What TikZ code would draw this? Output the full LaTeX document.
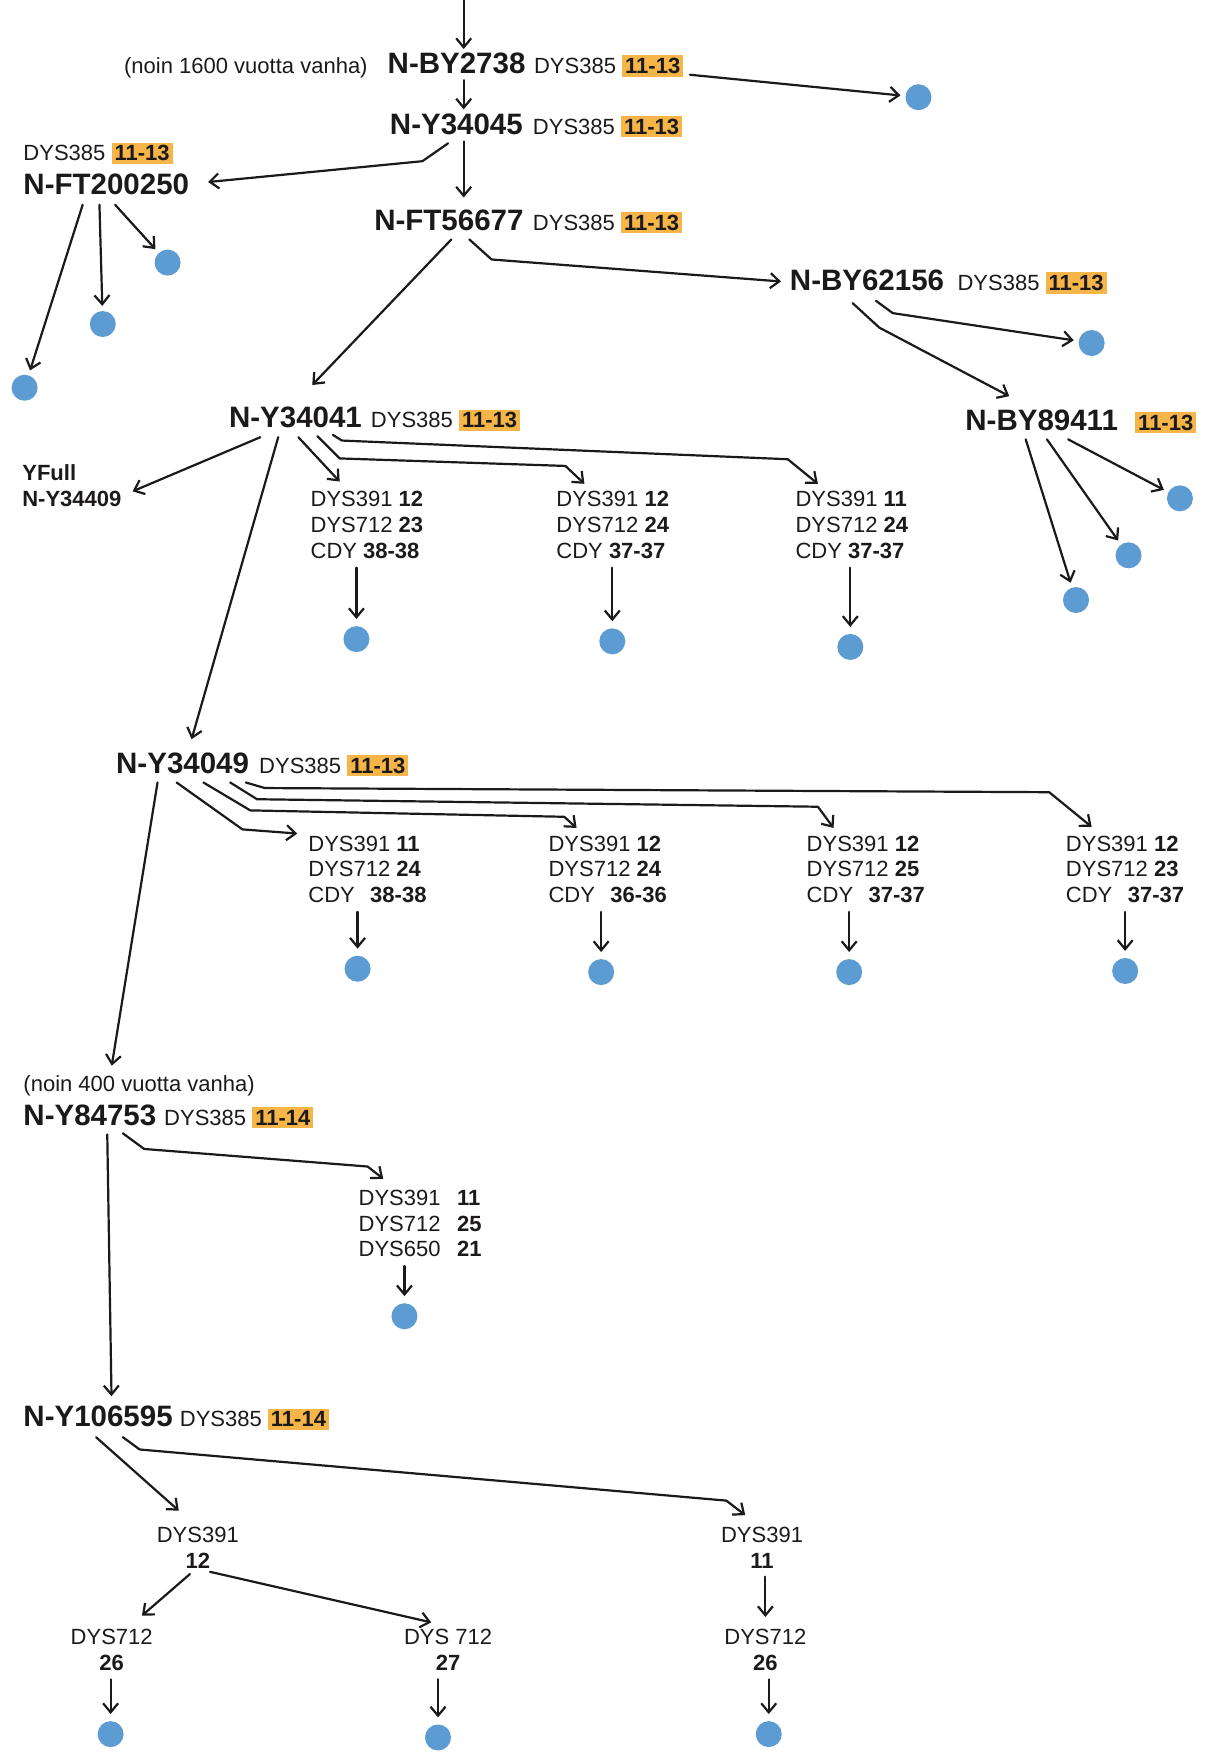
\documentclass[tikz,border=0pt]{standalone}
\usepackage{fontspec}
\setmainfont{Liberation Sans}
\usetikzlibrary{arrows.meta}
\definecolor{hlorange}{RGB}{246,181,72}
\definecolor{leafblue}{RGB}{93,156,211}
\definecolor{ink}{RGB}{28,25,26}
\newcommand{\idfont}{\fontsize{29.5}{34}\selectfont\bfseries}
\newcommand{\dysfont}{\fontsize{22}{25.7}\selectfont}
\newcommand{\hlbox}[1]{{\setlength{\fboxsep}{3pt}\colorbox{hlorange}{\bfseries #1}}}
\tikzset{
  hapl/.style={font=\idfont, inner sep=0pt, anchor=base west},
  dysval/.style={font=\dysfont, inner sep=0pt, anchor=base west},
  strs/.style={font=\dysfont, inner sep=0pt, align=left, anchor=north west},
  pair/.style={font=\dysfont, inner sep=0pt, align=center, anchor=north},
  leaf/.style={circle, fill=leafblue, minimum size=26pt, inner sep=0pt},
}
\begin{document}
\begin{tikzpicture}[x=1.1169pt, y=-1.1169pt, color=ink, line width=2.2pt, line cap=round, line join=round, >={Straight Barb[length=9pt,width=15pt]}]
\useasboundingbox (0,0) rectangle (1078,1568);

\node[dysval, anchor=base east] (age1) at (330,66) {(noin 1600 vuotta vanha)};
\node[hapl] (by2738) at (346,66) {N-BY2738};
\node[dysval] (by2738d) at (477,66) {DYS385 \hlbox{11-13}};
\node[hapl] (y34045) at (348,120) {N-Y34045};
\node[dysval] (y34045d) at (476,120) {DYS385 \hlbox{11-13}};
\node[dysval] (ft200250d) at (20,144) {DYS385 \hlbox{11-13}};
\node[hapl] (ft200250) at (20,174) {N-FT200250};
\node[hapl] (ft56677) at (334,206) {N-FT56677};
\node[dysval] (ft56677d) at (476,206) {DYS385 \hlbox{11-13}};
\node[hapl] (by62156) at (706,260) {N-BY62156};
\node[dysval] (by62156d) at (856,260) {DYS385 \hlbox{11-13}};
\node[hapl] (by89411) at (863,385) {N-BY89411};
\node[dysval] (by89411d) at (1015,385) {\hlbox{11-13}};
\node[hapl] (y34041) at (204,383) {N-Y34041};
\node[dysval] (y34041d) at (331,383) {DYS385 \hlbox{11-13}};
\node[strs, font=\dysfont\bfseries] (yfull) at (19,415) {YFull\\N-Y34409};
\node[strs] (r1b1) at (277,439) {DYS391 \textbf{12}\\DYS712 \textbf{23}\\CDY \textbf{38-38}};
\node[strs] (r1b2) at (497,439) {DYS391 \textbf{12}\\DYS712 \textbf{24}\\CDY \textbf{37-37}};
\node[strs] (r1b3) at (711,439) {DYS391 \textbf{11}\\DYS712 \textbf{24}\\CDY \textbf{37-37}};

\node[hapl] (y34049) at (103,692) {N-Y34049};
\node[dysval] (y34049d) at (231,692) {DYS385 \hlbox{11-13}};
\node[strs] (r2b1) at (275,747) {DYS391 \textbf{11}\\DYS712 \textbf{24}\\CDY\hspace{0.7em}\textbf{38-38}};
\node[strs] (r2b2) at (490,747) {DYS391 \textbf{12}\\DYS712 \textbf{24}\\CDY\hspace{0.7em}\textbf{36-36}};
\node[strs] (r2b3) at (721,747) {DYS391 \textbf{12}\\DYS712 \textbf{25}\\CDY\hspace{0.7em}\textbf{37-37}};
\node[strs] (r2b4) at (953,747) {DYS391 \textbf{12}\\DYS712 \textbf{23}\\CDY\hspace{0.7em}\textbf{37-37}};

\node[dysval] (age2) at (20,977) {(noin 400 vuotta vanha)};
\node[hapl] (y84753) at (20,1007) {N-Y84753};
\node[dysval] (y84753d) at (146,1007) {DYS385 \hlbox{11-14}};
\node[strs] (r3b1) at (320,1064) {DYS391\hspace{0.75em}\textbf{11}\\DYS712\hspace{0.75em}\textbf{25}\\DYS650\hspace{0.75em}\textbf{21}};

\node[hapl] (y106595) at (20,1277) {N-Y106595};
\node[dysval] (y106595d) at (160,1277) {DYS385 \hlbox{11-14}};
\node[pair] (a391) at (177,1366) {DYS391\\\textbf{12}};
\node[pair] (b391) at (682,1366) {DYS391\\\textbf{11}};
\node[pair] (a712) at (100,1457) {DYS712\\\textbf{26}};
\node[pair] (c712) at (401,1457) {DYS 712\\\textbf{27}};
\node[pair] (b712) at (685,1457) {DYS712\\\textbf{26}};

\foreach \n/\x/\y in {l0/822/87, fl1/22/347, fl2/92/290, fl3/150/235, bl/977/307,
    bx1/1056/446, bx2/1010/497, bx3/963/537, r1l1/319/572, r1l2/548/574, r1l3/761/579,
    r2l1/320/867, r2l2/538/870, r2l3/760/870, r2l4/1007/869, r3l1/362/1178,
    al/99/1552, cl/392/1555, bl2/688/1552}
  \node[leaf] (\n) at (\x,\y) {};

\coordinate (top) at (415,0);
\draw[->, shorten >=3pt] (top) -- (top |- by2738.north);
\draw[->, shorten <=5pt, shorten >=3pt] (top |- by2738.south) -- (top |- y34045.north);
\draw[->, shorten >=4pt] ([shift={(5,-3)}]by2738d.south east) -- (l0);
\draw[->, shorten <=6pt, shorten >=11pt] (top |- y34045.south) -- (top |- ft56677.north);
\draw[->] ([shift={(53,7)}]y34045.south west) -- ++(-23,16) -- ([shift={(16,-2)}]ft200250.east);
\foreach \dx/\l in {54/fl1, 69/fl2, 83/fl3}
  \draw[->, shorten >=4pt] ([shift={(\dx,8)}]ft200250.south west) -- (\l);

\draw[->] ([shift={(70,7)}]ft56677.south west) -- ([shift={(15,-19)}]y34041.north);
\draw[->] ([shift={(86,7)}]ft56677.south west) -- ++(20,18) -- ([shift={(-7,1)}]by62156.west);
\draw[->, shorten >=4pt] ([shift={(78,8)}]by62156.south west) -- ++(15,11) -- (bl);
\draw[->] ([shift={(57,10)}]by62156.south west) -- ++(24,22) -- ([shift={(-29,-11)}]by89411.north);
\foreach \dx/\l in {93/bx1, 74/bx2, 55/bx3}
  \draw[->, shorten >=4pt] ([shift={(\dx,7)}]by89411.south west) -- (\l);

\draw[->] ([shift={(29,7)}]y34041.south west) -- ([shift={(9,5)}]yfull.east);
\draw[->] ([shift={(45,7)}]y34041.south west) -- ([shift={(8,-11)}]y34049.north);
\draw[->] ([shift={(63,7)}]y34041.south west) -- ([shift={(27,-8)}]r1b1.north west);
\draw[->] ([shift={(80,6)}]y34041.south west) -- ++(20,20) -- ([shift={(9,-22)}]r1b2.north west) -- ([shift={(26,-6)}]r1b2.north west);
\draw[->] ([shift={(94,5)}]y34041.south west) -- ++(8,5) -- ([shift={(-6,-28)}]r1b3.north west) -- ([shift={(21,-6)}]r1b3.north west);

\draw[->] ([shift={(38,7)}]y34049.south west) -- ([shift={(80,-8)}]age2.north west);
\draw[->] ([shift={(55,7)}]y34049.south west) -- ++(59,42) -- ([shift={(-9,-1)}]r2b1.north west);
\draw[->] ([shift={(79,7)}]y34049.south west) -- ++(42,25) -- ([shift={(15,-16)}]r2b2.north west) -- ([shift={(26,-6)}]r2b2.north west);
\draw[->] ([shift={(103,7)}]y34049.south west) -- ++(24,15) -- ([shift={(11,-25)}]r2b3.north west) -- ([shift={(25,-6)}]r2b3.north west);
\draw[->] ([shift={(117,7)}]y34049.south west) -- ++(17,5) -- ([shift={(-14,-38)}]r2b4.north west) -- ([shift={(24,-7)}]r2b4.north west);

\draw[->] ([shift={(90,6)}]y84753.south west) -- ++(19,14) -- ([shift={(9,-20)}]r3b1.north west) -- ([shift={(23,-9)}]r3b1.north west);
\draw[->] ([shift={(76,7)}]y84753.south west) -- ([shift={(12,-8)}]y106595.north);

\draw[->] ([shift={(66,8)}]y106595.south west) -- ([shift={(-17,-14)}]a391.north);
\draw[->] ([shift={(90,8)}]y106595.south west) -- ++(15,11) -- ([shift={(-32,-23)}]b391.north) -- ([shift={(-15,-10)}]b391.north);
\draw[->] ([shift={(-7,4)}]a391.south) -- ([shift={(27,-11)}]a712.north);
\draw[->] ([shift={(11,2)}]a391.south) -- ([shift={(-15,-5)}]c712.north);
\draw[->, shorten <=7pt, shorten >=11pt] (b712.north |- b391.south) -- (b712.north);

\foreach \b/\l in {r1b1/r1l1, r1b2/r1l2, r1b3/r1l3, r2b1/r2l1, r2b2/r2l2, r2b3/r2l3,
    r2b4/r2l4, r3b1/r3l1, a712/al, c712/cl, b712/bl2}
  \draw[->, shorten <=8pt, shorten >=6pt] (\l |- \b.south) -- (\l);
\end{tikzpicture}
\end{document}
